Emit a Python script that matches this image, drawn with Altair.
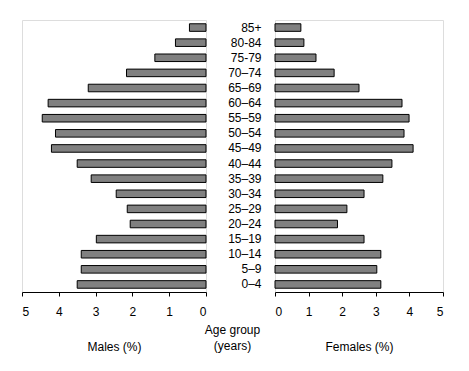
import altair as alt
import pandas as pd

ages = ["85+", "80-84", "75-79", "70–74", "65–69", "60–64", "55–59", "50–54",
        "45–49", "40–44", "35–39", "30–34", "25–29", "20–24", "15–19", "10–14",
        "5–9", "0–4"]
males = [0.45, 0.83, 1.39, 2.16, 3.20, 4.29, 4.45, 4.09, 4.20, 3.50, 3.12,
         2.44, 2.14, 2.06, 2.98, 3.39, 3.39, 3.50]
females = [0.77, 0.86, 1.22, 1.76, 2.50, 3.78, 3.99, 3.84, 4.11, 3.48, 3.21,
           2.65, 2.14, 1.86, 2.65, 3.15, 3.03, 3.15]
ticks = [0, 1, 2, 3, 4, 5]

df = pd.DataFrame({"age": ages, "male": males, "female": females})

FONT = "Liberation Sans"
FS = 12
H = 272
yscale = alt.Scale(paddingInner=0.5, paddingOuter=0.25)

xaxis_common = dict(values=ticks, tickSize=4, labelPadding=10, grid=False,
                    domainColor="black", tickColor="black", labelFontSize=FS,
                    titleFontSize=FS, titleFontWeight="normal", titlePadding=24,
                    labelColor="black", titleColor="black", labelFont=FONT,
                    titleFont=FONT)

left = alt.Chart(df).mark_bar(fill="#808080", stroke="black", strokeWidth=1).encode(
    x=alt.X("male:Q", scale=alt.Scale(domain=[0, 5], reverse=True, nice=False),
            axis=alt.Axis(title="Males (%)", **xaxis_common)),
    y=alt.Y("age:N", sort=ages, scale=yscale, axis=None),
).properties(width=184, height=H)

right = alt.Chart(df).mark_bar(fill="#808080", stroke="black", strokeWidth=1).encode(
    x=alt.X("female:Q", scale=alt.Scale(domain=[0, 5], nice=False),
            axis=alt.Axis(title="Females (%)", **xaxis_common)),
    y=alt.Y("age:N", sort=ages, scale=yscale,
            axis=alt.Axis(orient="left", ticks=False, domain=False, labelPadding=14,
                          labelFontSize=FS, labelColor="black", labelFont=FONT,
                          title=["Age group", "(years)"], titleAngle=0,
                          titleX=-43, titleY=H + 32, titleAlign="center",
                          titleBaseline="top", titleFontSize=FS,
                          titleFontWeight="normal", titleColor="black",
                          titleFont=FONT, titleLineHeight=16)),
).properties(width=168, height=H)

chart = alt.hconcat(left, right, spacing=69, bounds="flush").properties(
    padding={"top": 11, "left": 13, "right": 5, "bottom": 5}
).configure_view(stroke=None).configure(font=FONT)

chart.save("out.html", embed_options={"renderer": "svg", "actions": False})
